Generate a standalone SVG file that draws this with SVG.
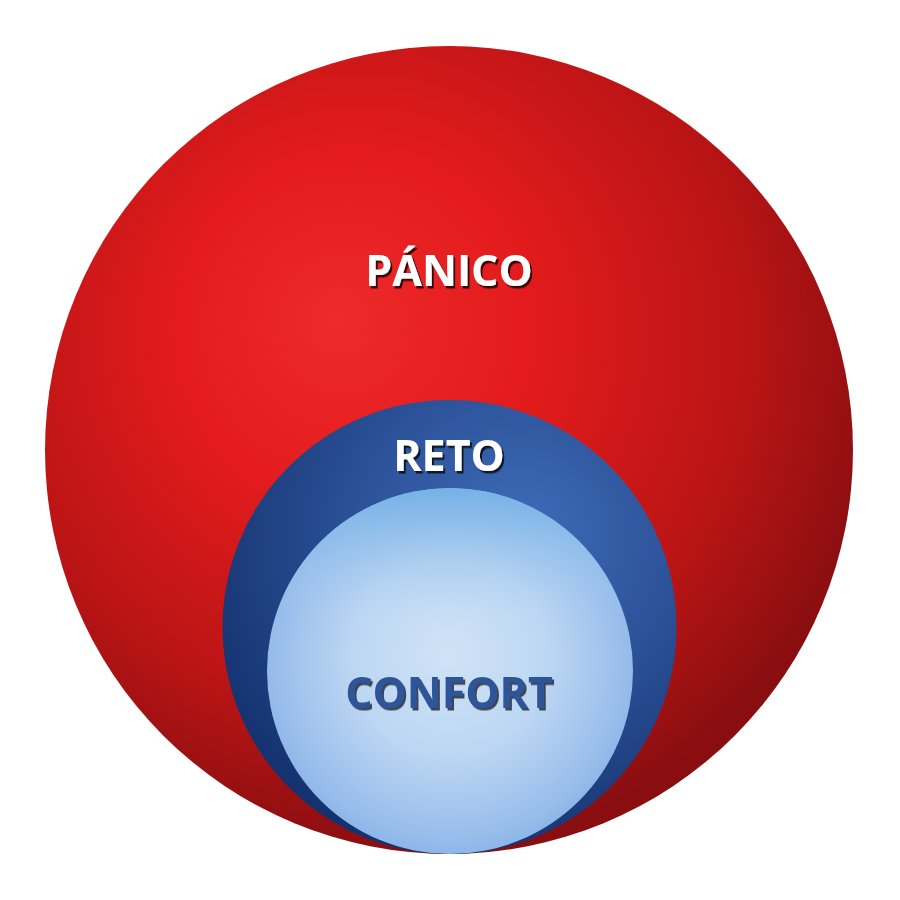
<svg xmlns="http://www.w3.org/2000/svg" width="900" height="900" viewBox="0 0 900 900">
  <defs>
    <radialGradient id="gRed" cx="0.42" cy="0.37" r="0.63" fx="0.36" fy="0.34">
      <stop offset="0" stop-color="#ee2a2b"/>
      <stop offset="0.35" stop-color="#e31b1c"/>
      <stop offset="0.75" stop-color="#b81415"/>
      <stop offset="1" stop-color="#8a0e10"/>
    </radialGradient>
    <radialGradient id="gBlue" cx="0.64" cy="0.3" r="0.75" fx="0.66" fy="0.3">
      <stop offset="0" stop-color="#3f6cb8"/>
      <stop offset="0.4" stop-color="#2f569e"/>
      <stop offset="0.8" stop-color="#1d3d7d"/>
      <stop offset="1" stop-color="#13316e"/>
    </radialGradient>
    <radialGradient id="gLight" cx="0.5" cy="0.48" r="0.6" fx="0.5" fy="0.45">
      <stop offset="0" stop-color="#d0e3f6"/>
      <stop offset="0.45" stop-color="#bcd6f3"/>
      <stop offset="0.8" stop-color="#98bdeb"/>
      <stop offset="1" stop-color="#7aa8e6"/>
    </radialGradient>
    <linearGradient id="gLightTop" x1="0" y1="0" x2="0" y2="1">
      <stop offset="0" stop-color="#6fb0e6" stop-opacity="0.85"/>
      <stop offset="0.35" stop-color="#a8cdf0" stop-opacity="0"/>
      <stop offset="1" stop-color="#a8cdf0" stop-opacity="0"/>
    </linearGradient>
    <filter id="shadow" x="-10%" y="-20%" width="120%" height="150%">
      <feDropShadow dx="2" dy="2.5" stdDeviation="0.6" flood-color="#000" flood-opacity="0.75"/>
    </filter>
    <filter id="shadowDark" x="-10%" y="-20%" width="120%" height="150%">
      <feDropShadow dx="2" dy="2.5" stdDeviation="0.6" flood-color="#1a2433" flood-opacity="0.8"/>
    </filter>
  </defs>
  <style>
    .lbl { font-family: "Open Sans", "Liberation Sans", sans-serif; font-weight: bold; font-size: 43px; text-anchor: middle; }
    .white { fill: #ffffff; filter: url(#shadow); }
    .navy { fill: #2f5597; filter: url(#shadowDark); }
  </style>
  <g id="panico">
    <circle cx="449" cy="450" r="404" fill="url(#gRed)"/>
    <text class="lbl white" x="449" y="286">PÁNICO</text>
  </g>
  <g id="reto">
    <circle cx="449.5" cy="627" r="227" fill="url(#gBlue)"/>
    <text class="lbl white" x="449" y="471">RETO</text>
  </g>
  <g id="confort">
    <circle cx="450" cy="671" r="183" fill="url(#gLight)"/>
    <circle cx="450" cy="671" r="183" fill="url(#gLightTop)"/>
    <text class="lbl navy" x="449" y="708">CONFORT</text>
  </g>
  <g id="connectors"/>
</svg>
